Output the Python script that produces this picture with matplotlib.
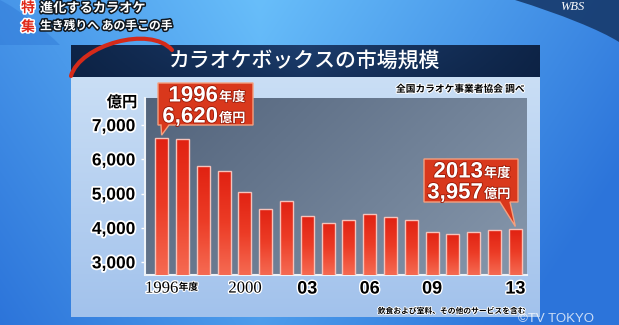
import numpy as np
import matplotlib
matplotlib.use('Agg')
import matplotlib.pyplot as plt
import matplotlib.patheffects as pe
from matplotlib.patches import Polygon, PathPatch
from matplotlib.path import Path
from matplotlib.colors import LinearSegmentedColormap

# ---------------- data ----------------
years = list(range(1996, 2014))
values = [6620, 6600, 5800, 5650, 5060, 4560, 4790, 4350, 4150,
          4240, 4400, 4320, 4240, 3890, 3830, 3890, 3940, 3957]
xtick_years = [1996, 2000, 2003, 2006, 2009, 2013]
xtick_labels = ['1996', '2000', '03', '06', '09', '13']
yticks = [3000, 4000, 5000, 6000, 7000]
ytick_labels = ['3,000', '4,000', '5,000', '6,000', '7,000']
title = 'カラオケボックスの市場規模'
source = '全国カラオケ事業者協会 調べ'
note = '飲食および室料、その他のサービスを含む'
unit = '億円'
callout_years = [1996, 2013]
callout_nums = ['6,620', '3,957']

W, H = 619, 325
JP = ['Noto Sans CJK JP', 'DejaVu Sans']
plt.rcParams['font.family'] = JP


def rect(x0, y0, x1, y1):
    return [x0 / W, 1 - y1 / H, (x1 - x0) / W, (y1 - y0) / H]


fig = plt.figure(figsize=(W / 100, H / 100), dpi=100)

# ---------------- background ----------------
bg = fig.add_axes([0, 0, 1, 1], zorder=0)
bg.axis('off')
yy, xx = np.mgrid[0:1:325j, 0:1:619j]
light = np.array([0x68, 0xbe, 0xfa]) / 255
dark = np.array([0x2c, 0x74, 0xda]) / 255
t = np.clip(1.3 * np.abs(xx - 0.42) + 0.45 * yy, 0, 1)[..., None]
img = light * (1 - t) + dark * t
bg.imshow(img, extent=[0, W, H, 0], aspect='auto')
bg.set_xlim(0, W)
bg.set_ylim(H, 0)
# dark swoosh at the top right
sw = Path([(515, 0), (560, 14), (600, 30), (619, 42), (619, 0), (515, 0)],
          [Path.MOVETO, Path.CURVE4, Path.CURVE4, Path.CURVE4, Path.LINETO, Path.CLOSEPOLY])
bg.add_patch(PathPatch(sw, facecolor='#173a6c', edgecolor='none', alpha=0.9))
sw2 = Path([(0, 0), (20, 10), (45, 30), (60, 45), (0, 45), (0, 0)],
           [Path.MOVETO, Path.CURVE4, Path.CURVE4, Path.CURVE4, Path.LINETO, Path.CLOSEPOLY])
bg.add_patch(PathPatch(sw2, facecolor='#2f78d6', edgecolor='none', alpha=0.45))

# ---------------- panel ----------------
panel = fig.add_axes(rect(71, 45, 540, 317), zorder=1)
panel.axis('off')
pg = np.linspace(0, 1, 100)[:, None, None]
ptop = np.array([0xcf, 0xe2, 0xf6]) / 255
pbot = np.array([0xa2, 0xc2, 0xec]) / 255
panel.imshow(ptop * (1 - pg) + pbot * pg, extent=[0, 1, 0, 1], aspect='auto')

band = fig.add_axes(rect(71, 45, 540, 77), zorder=2)
band.axis('off')
bx = np.linspace(0, 1, 200)[None, :, None]
by = np.linspace(0, 1, 30)[:, None, None]
bc1 = np.array([0x0a, 0x1e, 0x3e]) / 255
bc2 = np.array([0x1d, 0x3e, 0x6e]) / 255
tb = np.clip(1 - 1.6 * np.abs(bx - 0.5), 0, 1) * (0.7 + 0.3 * (1 - by))
band.imshow(bc1 * (1 - tb) + bc2 * tb, extent=[0, 1, 0, 1], aspect='auto')

# ---------------- plot ----------------
ax = fig.add_axes(rect(145, 98, 527, 275), zorder=3)
x = np.arange(len(years))
ylo, yhi = 2630, 7790
xlo, xhi = -0.8, 17.56

pyy, pxx = np.mgrid[0:1:100j, 0:1:200j]
c_dk = np.array([0x52, 0x63, 0x7b]) / 255
c_lt = np.array([0x82, 0x93, 0xa8]) / 255
tp = np.clip(0.75 * pxx + 0.35 * pyy, 0, 1)[..., None]
ax.imshow(c_dk * (1 - tp) + c_lt * tp, extent=[0, 1, 0, 1], transform=ax.transAxes,
          aspect='auto', zorder=0)
ax.patch.set_visible(False)

bar_cmap = LinearSegmentedColormap.from_list('bar', ['#f56a52', '#ec3c26', '#e12212'])
bars = ax.bar(x, values, width=0.62, facecolor='none', edgecolor='#f6c2ba',
              linewidth=1.0, zorder=4)
grad = np.linspace(0, 1, 64)[:, None]
for b in bars:
    x0 = b.get_x()
    im = ax.imshow(grad, extent=[x0, x0 + b.get_width(), ylo, b.get_height()],
                   aspect='auto', cmap=bar_cmap, origin='lower', zorder=3)
    im.set_clip_path(b)

ax.set_xlim(xlo, xhi)
ax.set_ylim(ylo, yhi)
for s in ['top', 'right']:
    ax.spines[s].set_visible(False)
for s in ['left', 'bottom']:
    ax.spines[s].set_color('#eef3f8')
    ax.spines[s].set_linewidth(1.5)

ax.set_yticks(yticks)
ax.set_yticklabels(ytick_labels, fontfamily='Liberation Sans', fontweight='bold',
                   fontsize=12.5, color='black')
for lab in ax.get_yticklabels():
    lab.set_path_effects([pe.withStroke(linewidth=2.5, foreground='white')])
ax.tick_params(axis='y', length=3, width=1, color='white', pad=4)

xt = [years.index(yv) for yv in xtick_years]
ax.set_xticks(xt)
ax.set_xticklabels(xtick_labels)
ax.tick_params(axis='x', length=0, pad=4)
for i, lab in enumerate(ax.get_xticklabels()):
    if i < 2:
        lab.set_fontfamily('Liberation Serif')
        lab.set_fontsize(12)
    else:
        lab.set_fontfamily('Liberation Sans')
        lab.set_fontweight('bold')
        lab.set_fontsize(13)
    lab.set_color('black')
    lab.set_path_effects([pe.withStroke(linewidth=2, foreground='white')])

# ---------------- overlay texts ----------------
ov = fig.add_axes([0, 0, 1, 1], zorder=10)
ov.axis('off')
ov.patch.set_alpha(0)
ov.set_xlim(0, W)
ov.set_ylim(H, 0)

fig.canvas.draw()


def to_px(xd, yd):
    dx, dy = ax.transData.transform((xd, yd))
    return dx, H - dy


# 年度 after 1996 label
lx, _ = to_px(0, ylo)
ov.text(lx + 17, 287, '年度', fontsize=7, fontweight='bold', ha='left', va='center',
        color='black', path_effects=[pe.withStroke(linewidth=1.5, foreground='white')])

ov.text(305, 61, title, fontsize=15, color='white', ha='center', va='center',
        fontweight='medium')
ov.text(525, 89, source, fontsize=7, fontweight='bold', ha='right', va='center',
        color='black', path_effects=[pe.withStroke(linewidth=1.5, foreground='white')])
ov.text(525, 311, note, fontsize=5.6, fontweight='bold', ha='right', va='center',
        color='black', path_effects=[pe.withStroke(linewidth=1.2, foreground='white')])
ov.text(122, 102, unit, fontsize=11, fontweight='bold', ha='center', va='center',
        color='black', path_effects=[pe.withStroke(linewidth=2.5, foreground='white')])

# callouts
box_specs = [
    # (box x0, y0, x1, y1, tail base x0, x1, split x, line1 y, line2 y)
    (158, 83, 253, 125, 161, 169, 218, 95, 116),
    (424, 159, 518, 202, 500, 510, 483, 171, 192),
]
for (cy, num, spec) in zip(callout_years, callout_nums, box_specs):
    bx0, by0, bx1, by1, tb0, tb1, sx, l1, l2 = spec
    i = years.index(cy)
    tx, ty = to_px(i, values[i])
    ty -= 3
    poly = Polygon([(bx0, by0), (bx1, by0), (bx1, by1), (tb1, by1), (tx, ty),
                    (tb0, by1), (bx0, by1)], closed=True, facecolor='#d9381c',
                   edgecolor='#f4a080', linewidth=1.0)
    ov.add_patch(poly)
    shadow = [pe.withStroke(linewidth=1.2, foreground='#9a1a08')]
    ov.text(sx, l1 + 1, str(cy), fontfamily='Liberation Sans', fontweight='bold',
            fontsize=16, color='white', ha='right', va='center', path_effects=shadow)
    ov.text(sx + 1, l1 + 2, '年度', fontsize=9.5, fontweight='bold', color='white',
            ha='left', va='center', path_effects=shadow)
    ov.text(sx, l2 + 1, num, fontfamily='Liberation Sans', fontweight='bold',
            fontsize=16, color='white', ha='right', va='center', path_effects=shadow)
    ov.text(sx + 1, l2 + 2, '億円', fontsize=9.5, fontweight='bold', color='white',
            ha='left', va='center', path_effects=shadow)

# red arc
arc = Path([(71, 76), (80, 45), (150, 25), (172, 50)],
           [Path.MOVETO, Path.CURVE4, Path.CURVE4, Path.CURVE4])
ov.add_patch(PathPatch(arc, facecolor='none', edgecolor='#d42a1a', linewidth=3,
                       capstyle='round'))

# header texts
dark_stroke = [pe.withStroke(linewidth=2.2, foreground='#101820')]
white_stroke = [pe.withStroke(linewidth=2.2, foreground='white')]
ov.text(28, 8, '特', fontsize=10, fontweight='bold', color='#e02818', ha='center',
        va='center', path_effects=white_stroke)
ov.text(28, 27, '集', fontsize=10, fontweight='bold', color='#e02818', ha='center',
        va='center', path_effects=white_stroke)
ov.text(40, 8, '進化するカラオケ', fontsize=9.5, fontweight='bold', color='white',
        ha='left', va='center', path_effects=dark_stroke)
ov.text(40, 26, '生き残りへ あの手この手', fontsize=8.5, fontweight='bold', color='white',
        ha='left', va='center', path_effects=dark_stroke)
ov.text(572, 7, 'WBS', fontfamily='Liberation Serif', fontstyle='italic', fontsize=9,
        color='white', ha='center', va='center')
ov.text(518, 325, '©TV TOKYO', fontfamily='Liberation Sans', fontsize=9.5,
        color='white', alpha=0.75, ha='left', va='bottom')

fig.savefig('out.png', dpi=100)
